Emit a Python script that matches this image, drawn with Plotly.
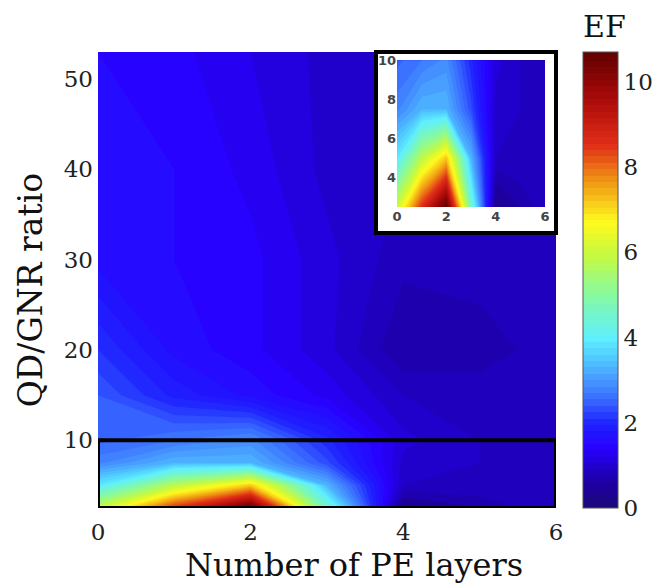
import plotly.graph_objects as go

# ---- data ----
pe_layers = [0, 1, 2, 3, 4, 5, 6]
qd_gnr_ratio = [2.5, 5, 7.5, 10, 15, 20, 30, 40, 53]
ef_r2_5 = [6.0, 8.6, 10.7, 4.6, 0.3, 0.6, 0.9]
ef_r5 = [3.9, 5.8, 7.2, 3.3, 0.9, 0.9, 0.9]
ef_r7_5 = [2.8, 3.3, 3.3, 2.3, 1.0, 0.9, 0.9]
ef_r10 = [2.5, 2.7, 2.9, 2.0, 1.1, 0.9, 0.9]
ef_r15 = [2.4, 1.9, 1.6, 1.3, 0.9, 0.8, 0.9]
ef_r20 = [2.1, 1.6, 1.4, 1.1, 0.6, 0.7, 0.8]
ef_r30 = [1.6, 1.5, 1.4, 1.1, 0.8, 0.8, 0.8]
ef_r40 = [1.5, 1.5, 1.3, 1.0, 0.9, 0.8, 0.7]
ef_r53 = [1.5, 1.4, 1.2, 1.0, 0.9, 0.8, 0.7]
ef = [ef_r2_5, ef_r5, ef_r7_5, ef_r10, ef_r15, ef_r20, ef_r30, ef_r40, ef_r53]

x_ticks = [0, 2, 4, 6]
y_ticks = [10, 20, 30, 40, 50]
cb_ticks = [0, 2, 4, 6, 8, 10]
inset_y_ticks = [4, 6, 8, 10]
inset_rows = 4  # rows with ratio <= 10

ef_min, ef_max = 0, 10.7

jet = [
    [0.00, "rgb(28,8,120)"],
    [0.05, "rgb(30,0,160)"],
    [0.093, "rgb(32,0,205)"],
    [0.131, "rgb(40,0,255)"],
    [0.187, "rgb(30,35,255)"],
    [0.234, "rgb(55,100,255)"],
    [0.28, "rgb(70,150,255)"],
    [0.327, "rgb(80,200,255)"],
    [0.374, "rgb(95,240,255)"],
    [0.47, "rgb(135,250,160)"],
    [0.56, "rgb(200,250,60)"],
    [0.63, "rgb(255,250,30)"],
    [0.72, "rgb(240,150,20)"],
    [0.80, "rgb(225,45,25)"],
    [0.90, "rgb(170,10,10)"],
    [1.00, "rgb(100,0,0)"],
]

serif = "DejaVu Serif"
contours = dict(start=ef_min, end=ef_max, size=0.15, coloring="fill", showlines=False)

fig = go.Figure()

fig.add_trace(go.Contour(
    x=pe_layers, y=qd_gnr_ratio, z=ef,
    colorscale=jet, zmin=ef_min, zmax=ef_max, zauto=False,
    contours=contours, line=dict(width=0, smoothing=0),
    colorbar=dict(
        x=1.059, xanchor="left", xpad=0, ypad=0,
        y=0.5, yanchor="middle", len=1.0, lenmode="fraction",
        thickness=35, outlinewidth=1, outlinecolor="#555",
        tickvals=cb_ticks, ticks="",
        tickfont=dict(family=serif, size=23, color="#222"),
    ),
    hoverinfo="skip",
))

# white background for the inset
fig.add_trace(go.Scatter(
    x=[0, 1, 1, 0, 0], y=[0, 0, 1, 1, 0], mode="lines",
    fill="toself", fillcolor="white", line=dict(width=0),
    xaxis="x2", yaxis="y2", showlegend=False, hoverinfo="skip",
))

fig.add_trace(go.Contour(
    x=pe_layers, y=qd_gnr_ratio[:inset_rows], z=ef[:inset_rows],
    colorscale=jet, zmin=ef_min, zmax=ef_max, zauto=False,
    contours=contours, line=dict(width=0, smoothing=0), showscale=False,
    xaxis="x3", yaxis="y3", hoverinfo="skip",
))

box_x0, box_x1, box_y0, box_y1 = 0.607, 1.0, 0.603, 1.0
inset_font = dict(family="DejaVu Sans", size=13, color="#444", weight="bold")

fig.update_layout(
    width=656, height=586,
    margin=dict(l=98, r=100, t=52, b=78, autoexpand=False),
    paper_bgcolor="white", plot_bgcolor="white",
    showlegend=False,
    xaxis=dict(range=[0, 6], tickvals=x_ticks, ticks="", showgrid=False, zeroline=False,
               showline=False, ticklabelstandoff=8,
               tickfont=dict(family=serif, size=23, color="#222")),
    yaxis=dict(range=[2.5, 53], tickvals=y_ticks, ticks="", showgrid=False, zeroline=False,
               showline=False, ticklabelstandoff=4,
               tickfont=dict(family=serif, size=23, color="#222")),
    xaxis2=dict(domain=[box_x0, box_x1], range=[0, 1], visible=False, anchor="y2"),
    yaxis2=dict(domain=[box_y0, box_y1], range=[0, 1], visible=False, anchor="x2"),
    xaxis3=dict(domain=[0.653, 0.976], range=[0, 6], anchor="y3", tickvals=x_ticks, ticks="",
                showgrid=False, zeroline=False, showline=False, tickfont=inset_font),
    yaxis3=dict(domain=[0.660, 0.982], range=[2.5, 10], anchor="x3", tickvals=inset_y_ticks, ticks="",
                showgrid=False, zeroline=False, showline=False, ticklabelstandoff=0, tickfont=inset_font),
    shapes=[
        dict(type="rect", xref="x", yref="y", x0=0, x1=6, y0=2.5, y1=10,
             line=dict(color="black", width=4), fillcolor="rgba(0,0,0,0)", layer="above"),
        dict(type="rect", xref="paper", yref="paper", x0=box_x0, x1=box_x1, y0=box_y0, y1=box_y1,
             line=dict(color="black", width=4), fillcolor="rgba(0,0,0,0)", layer="above"),
    ],
    annotations=[
        dict(text="EF", xref="paper", yref="paper", x=1.105, y=1.057, xanchor="center", yanchor="middle",
             showarrow=False, font=dict(family=serif, size=30, color="#111")),
        dict(text="Number of PE layers", xref="paper", yref="paper", x=0.559, y=-0.125,
             xanchor="center", yanchor="middle", showarrow=False,
             font=dict(family=serif, size=32, color="#111")),
        dict(text="QD/GNR ratio", xref="paper", yref="paper", x=-0.148, y=0.478,
             xanchor="center", yanchor="middle", textangle=-90, showarrow=False,
             font=dict(family=serif, size=33, color="#111")),
    ],
)

fig.write_html("out.html")
